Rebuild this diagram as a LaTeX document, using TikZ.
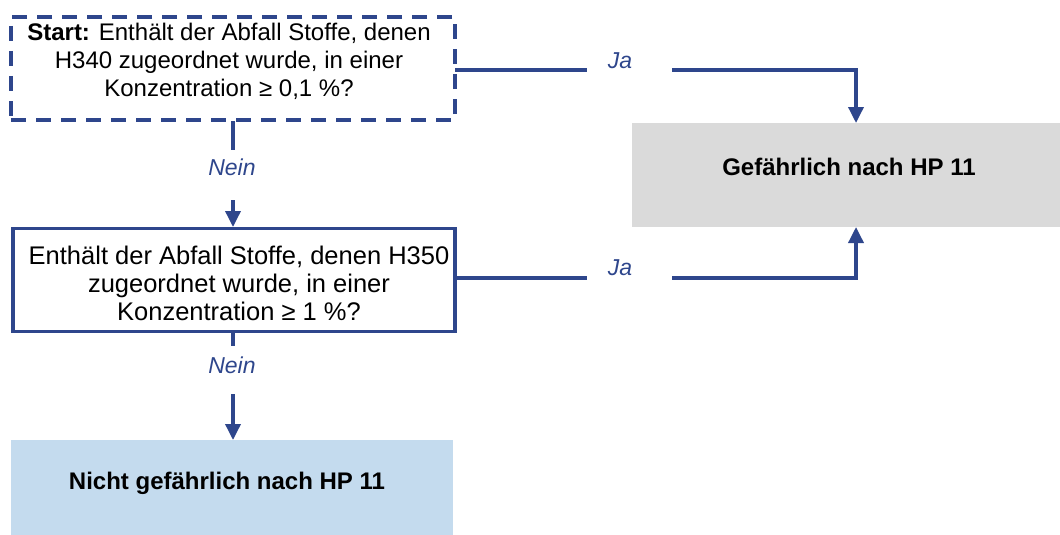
\documentclass[tikz,border=0pt]{standalone}
\usepackage{fontspec}
\setmainfont{Liberation Sans}
\usetikzlibrary{arrows.meta}
\definecolor{lineblue}{RGB}{46,70,140}
\definecolor{boxgray}{RGB}{218,218,218}
\definecolor{boxblue}{RGB}{196,219,238}
\begin{document}
\begin{tikzpicture}[x=1pt,y=-1pt,
  qbox/.style={draw=lineblue, line width=3.5pt, fill=white, minimum width=444pt, minimum height=103pt, inner sep=0pt},
  dashbox/.style={qbox, dash pattern=on 15pt off 10pt},
  qtext/.style={align=center, inner sep=0pt, font=\fontsize{#1}{28}\selectfont},
  conn/.style={draw=lineblue, line width=3.5pt},
  arr/.style={conn, -{Triangle[width=15pt,length=16pt]}},
  lbl/.style={text=lineblue, font=\fontsize{23}{26}\selectfont\itshape, inner sep=0pt},
  res/.style={inner sep=0pt, font=\fontsize{24}{28}\selectfont\bfseries}
]
\useasboundingbox (0,0) rectangle (1060,535);
% boxes
\node[dashbox] (b1) at (233,68.5) {};
\node[qtext=24] (b1t) at (229,61) {\textbf{Start:} Enthält der Abfall Stoffe, denen\\H340 zugeordnet wurde, in einer\\Konzentration ≥ 0,1 \%?};
\node[qbox, minimum width=442pt] (b2) at (234,280) {};
\node[qtext=25.5] (b2t) at (239,283) {Enthält der Abfall Stoffe, denen H350\\zugeordnet wurde, in einer\\Konzentration ≥ 1 \%?};
\node[fill=boxgray, minimum width=428pt, minimum height=104pt, inner sep=0pt] (g) at (846,175) {};
\node[res] (gt) at (849,167) {Gefährlich nach HP 11};
\node[fill=boxblue, minimum width=442pt, minimum height=95pt, inner sep=0pt] (n) at (232,487.5) {};
\node[res] (nt) at (227,483) {Nicht gefährlich nach HP 11};
% labels
\node[lbl] (ja1) at (620,61) {Ja};
\node[lbl] (ja2) at (620,268) {Ja};
\node[lbl] (nein1) at (232,167) {Nein};
\node[lbl] (nein2) at (232,365) {Nein};
% coordinates
\coordinate (j1a) at (455,70);
\coordinate (j1b) at (587,70);
\coordinate (j1c) at (672,70);
\coordinate (gtop) at (856,123);
\coordinate (j2a) at (455,278);
\coordinate (j2b) at (587,278);
\coordinate (j2c) at (672,278);
\coordinate (gbot) at (856,227);
\coordinate (na) at (233,121);
\coordinate (nb) at (233,150);
\coordinate (nc) at (233,200);
\coordinate (nd) at (233,227);
\coordinate (ma) at (233,332);
\coordinate (mb) at (233,346);
\coordinate (mc) at (233,394);
\coordinate (md) at (233,440);
% connectors
\draw[conn] (j1a) -- (j1b);
\draw[arr] (j1c) -| (gtop);
\draw[conn] (j2a) -- (j2b);
\draw[arr] (j2c) -| (gbot);
\draw[conn] (na) -- (nb);
\draw[arr] (nc) -- (nd);
\draw[conn] (ma) -- (mb);
\draw[arr] (mc) -- (md);
\end{tikzpicture}
\end{document}
